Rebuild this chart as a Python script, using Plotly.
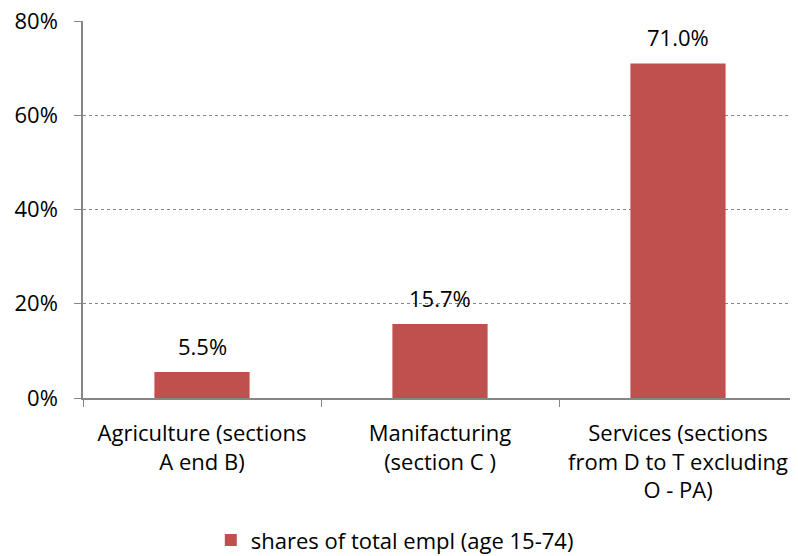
import plotly.graph_objects as go

categories = [
    "Agriculture (sections<br>A end B)",
    "Manifacturing<br>(section C )",
    "Services (sections<br>from D to T excluding<br>O - PA)",
]
values = [5.5, 15.7, 71.0]
series_name = "shares of total empl (age 15-74)"
tick_vals = [0, 20, 40, 60, 80]
tick_text = ["0%", "20%", "40%", "60%", "80%"]

FONT = "Open Sans, sans-serif"
FS = 22
BAR = "#C0504D"
AXIS = "#868686"

fig = go.Figure()
fig.add_trace(go.Bar(
    x=categories, y=values, name=series_name,
    marker=dict(color=BAR, line=dict(width=0)),
    width=0.4, showlegend=True,
))
for c, v in zip(categories, values):
    fig.add_annotation(x=c, y=v, text=f"{v:.1f}%", showarrow=False,
                       yanchor="bottom", yshift=9,
                       font=dict(family=FONT, size=FS, color="#000000"))

fig.update_layout(
    width=798, height=556,
    margin=dict(l=75, r=9, t=13, b=166, autoexpand=False),
    paper_bgcolor="white", plot_bgcolor="white",
    font=dict(family=FONT, size=FS, color="#000000"),
    showlegend=True,
    legend=dict(orientation="h", x=0.179, xanchor="left", y=-0.377, yanchor="middle",
                font=dict(family=FONT, size=FS), itemwidth=30),
    xaxis=dict(
        showline=True, linecolor=AXIS, linewidth=1.5,
        ticks="outside", ticklen=7, tickcolor=AXIS, tickson="boundaries",
        showgrid=False, tickfont=dict(family=FONT, size=FS), automargin=False,
        ticklabelstandoff=15, tickangle=0,
    ),
    yaxis=dict(
        range=[0, 80], tickvals=tick_vals, ticktext=tick_text,
        showline=True, linecolor=AXIS, linewidth=1.5,
        ticks="outside", ticklen=7, tickcolor=AXIS,
        showgrid=True, gridcolor=AXIS, griddash="dot", gridwidth=1,
        zeroline=False, tickfont=dict(family=FONT, size=FS), automargin=False,
        ticklabelstandoff=12, ticklabeloverflow="allow",
    ),
    bargap=0.6,
)
fig.write_html("out.html")
